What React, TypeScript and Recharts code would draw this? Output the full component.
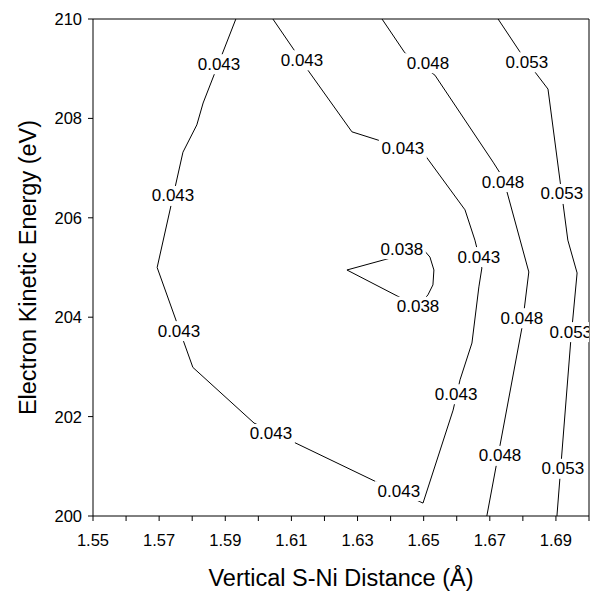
import { ComposedChart, Line, Scatter, XAxis, YAxis, ReferenceLine, Label } from 'recharts';

const X_TICKS = [1.55, 1.56, 1.57, 1.58, 1.59, 1.6, 1.61, 1.62, 1.63, 1.64, 1.65, 1.66, 1.67, 1.68, 1.69, 1.7];
const X_TICK_LABELS = [1.55, 1.57, 1.59, 1.61, 1.63, 1.65, 1.67, 1.69];
const Y_TICKS = [200, 202, 204, 206, 208, 210];

// contour paths
const contour038 = [
  { x: 1.6483, y: 204.21 },
  { x: 1.6268, y: 204.95 },
  { x: 1.6498, y: 205.37 },
  { x: 1.6519, y: 205.21 },
  { x: 1.6531, y: 204.95 },
  { x: 1.6528, y: 204.65 },
  { x: 1.6513, y: 204.45 },
  { x: 1.6483, y: 204.21 },
];

const contour043 = [
  { x: 1.5932, y: 210 },
  { x: 1.5833, y: 208.31 },
  { x: 1.5814, y: 207.87 },
  { x: 1.5772, y: 207.32 },
  { x: 1.5694, y: 205.0 },
  { x: 1.5802, y: 202.99 },
  { x: 1.5987, y: 201.87 },
  { x: 1.6359, y: 200.68 },
  { x: 1.6498, y: 200.26 },
  { x: 1.6589, y: 202.13 },
  { x: 1.661, y: 202.74 },
  { x: 1.6646, y: 203.48 },
  { x: 1.6667, y: 204.61 },
  { x: 1.6676, y: 204.99 },
  { x: 1.6655, y: 205.55 },
  { x: 1.6625, y: 206.16 },
  { x: 1.6504, y: 207.26 },
  { x: 1.6359, y: 207.57 },
  { x: 1.6283, y: 207.73 },
  { x: 1.615, y: 208.97 },
  { x: 1.6044, y: 210 },
];

const contour048 = [
  { x: 1.6374, y: 210 },
  { x: 1.6443, y: 209.32 },
  { x: 1.6534, y: 208.87 },
  { x: 1.671, y: 207.12 },
  { x: 1.6731, y: 206.9 },
  { x: 1.6752, y: 206.52 },
  { x: 1.6818, y: 204.91 },
  { x: 1.6797, y: 203.78 },
  { x: 1.6691, y: 200 },
];

const contour053 = [
  { x: 1.6725, y: 210 },
  { x: 1.6791, y: 209.34 },
  { x: 1.6837, y: 208.93 },
  { x: 1.6876, y: 208.59 },
  { x: 1.6936, y: 205.55 },
  { x: 1.6964, y: 204.89 },
  { x: 1.6945, y: 203.54 },
  { x: 1.6903, y: 200 },
];

// where the level labels sit on each contour
const labels038 = [
  { x: 1.6434, y: 205.37 },
  { x: 1.6483, y: 204.21 },
];

const labels043 = [
  { x: 1.5881, y: 209.09 },
  { x: 1.5742, y: 206.44 },
  { x: 1.576, y: 203.72 },
  { x: 1.6038, y: 201.65 },
  { x: 1.6425, y: 200.5 },
  { x: 1.6598, y: 202.45 },
  { x: 1.6667, y: 205.21 },
  { x: 1.6437, y: 207.4 },
  { x: 1.6132, y: 209.17 },
];

const labels048 = [
  { x: 1.6513, y: 209.11 },
  { x: 1.674, y: 206.72 },
  { x: 1.6797, y: 203.98 },
  { x: 1.6731, y: 201.21 },
];

const labels053 = [
  { x: 1.6812, y: 209.13 },
  { x: 1.6918, y: 206.48 },
  { x: 1.6945, y: 203.7 },
  { x: 1.6921, y: 200.95 },
];

const FONT = '"Liberation Sans", Arial, Helvetica, sans-serif';

function XTick(props: any) {
  const { x, y, payload } = props;
  const show = X_TICK_LABELS.some((v) => Math.abs(v - payload.value) < 1e-6);
  if (!show) return <g />;
  return (
    <text x={x} y={y + 17} textAnchor="middle" dominantBaseline="central" fontSize={16.5} fontFamily={FONT} fill="#000">
      {Number(payload.value).toFixed(2)}
    </text>
  );
}

function YTick(props: any) {
  const { x, y, payload } = props;
  return (
    <text x={x - 4} y={y} textAnchor="end" dominantBaseline="central" fontSize={16.5} fontFamily={FONT} fill="#000">
      {payload.value}
    </text>
  );
}

function levelLabel(text: string) {
  return (props: any) => {
    const { cx, cy } = props;
    return (
      <g>
        <rect x={cx - 24} y={cy - 10} width={48} height={20} fill="#fff" />
        <text x={cx} y={cy} textAnchor="middle" dominantBaseline="central" fontSize={17} fontFamily={FONT} fill="#000">
          {text}
        </text>
      </g>
    );
  };
}

export default function App() {
  const contours = [contour038, contour043, contour048, contour053];
  const labelSets: [string, { x: number; y: number }[]][] = [
    ['0.038', labels038],
    ['0.043', labels043],
    ['0.048', labels048],
    ['0.053', labels053],
  ];

  return (
    <div style={{ position: 'absolute', left: 0, top: 0, background: '#fff' }}>
      <ComposedChart width={591} height={594} margin={{ top: 19, right: 2, bottom: 0, left: 0 }}>
        <XAxis
          dataKey="x"
          type="number"
          domain={[1.55, 1.7]}
          ticks={X_TICKS}
          interval={0}
          allowDataOverflow
          height={78}
          tickSize={5}
          stroke="#000"
          tick={<XTick />}
        >
          <Label
            content={(p: any) => {
              const vb = p.viewBox;
              return (
                <text x={vb.x + vb.width / 2} y={578} textAnchor="middle" dominantBaseline="central" fontSize={23.5} fontFamily={FONT} fill="#000">
                  Vertical S-Ni Distance (Å)
                </text>
              );
            }}
          />
        </XAxis>
        <YAxis
          dataKey="y"
          type="number"
          domain={[200, 210]}
          ticks={Y_TICKS}
          interval={0}
          allowDataOverflow
          width={93}
          tickSize={5}
          stroke="#000"
          tick={<YTick />}
        >
          <Label
            content={(p: any) => {
              const vb = p.viewBox;
              const cy = vb.y + vb.height / 2;
              return (
                <text x={28} y={cy} transform={`rotate(-90 28 ${cy})`} textAnchor="middle" dominantBaseline="central" fontSize={23.5} fontFamily={FONT} fill="#000">
                  Electron Kinetic Energy (eV)
                </text>
              );
            }}
          />
        </YAxis>
        <ReferenceLine x={1.7} stroke="#000" />
        <ReferenceLine y={210} stroke="#000" />
        {contours.map((c, i) => (
          <Line
            key={`c-${i}`}
            data={c}
            dataKey="y"
            type="linear"
            stroke="#000"
            strokeWidth={1}
            dot={false}
            activeDot={false}
            isAnimationActive={false}
          />
        ))}
        {labelSets.map(([text, pts]) => (
          <Scatter key={`l-${text}`} data={pts} dataKey="y" shape={levelLabel(text)} isAnimationActive={false} />
        ))}
      </ComposedChart>
    </div>
  );
}
